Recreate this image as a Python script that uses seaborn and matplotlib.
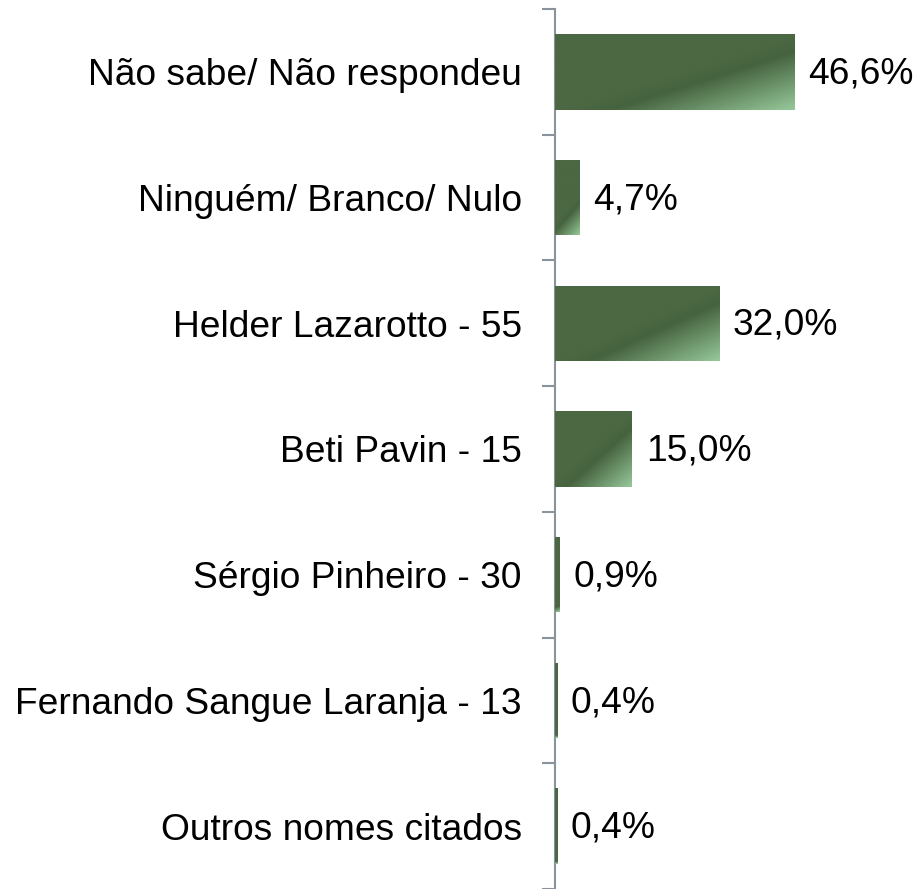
import numpy as np
import pandas as pd
import matplotlib
matplotlib.use("Agg")
import matplotlib.pyplot as plt
import seaborn as sns
from matplotlib.colors import LinearSegmentedColormap

# Data
categories = ["Não sabe/ Não respondeu", "Ninguém/ Branco/ Nulo", "Helder Lazarotto - 55",
              "Beti Pavin - 15", "Sérgio Pinheiro - 30", "Fernando Sangue Laranja - 13",
              "Outros nomes citados"]
values = [46.6, 4.7, 32.0, 15.0, 0.9, 0.4, 0.4]
value_labels = ["46,6%", "4,7%", "32,0%", "15,0%", "0,9%", "0,4%", "0,4%"]

df = pd.DataFrame({"cat": categories, "val": values})

sns.set_theme(style="white")
plt.rcParams["font.family"] = ["Liberation Sans", "DejaVu Sans"]

W, H, DPI = 919, 889, 100
fig = plt.figure(figsize=(W / DPI, H / DPI), dpi=DPI)
ax = fig.add_axes([555 / W, 0.0, (W - 555) / W, 880 / H])

dark = "#4b6843"
light = "#96c89a"
sns.barplot(data=df, y="cat", x="val", orient="h", color=dark, width=0.6,
            saturation=1, ax=ax)

xmax = (W - 555) / 5.13
ax.set_xlim(0, xmax)
ax.set_ylim(len(categories) - 0.5, -0.5)

# gradient fill on each bar (light corner bottom-right)
cmap = LinearSegmentedColormap.from_list(
    "g", [(0, light), (0.8, "#46633f"), (1, dark)])
px_x = 5.13
px_y = 880 / len(categories)
for p in list(ax.patches):
    x0, y0 = p.get_x(), p.get_y()
    w, h = p.get_width(), p.get_height()
    w_px = max(w * px_x, 1)
    a = 0.72 * w_px + 10
    b = min(1.3 * w_px, 58)
    xs = np.linspace(x0, x0 + w, 240)
    ys = np.linspace(y0, y0 + h, 80)
    X, Y = np.meshgrid(xs, ys)
    dx = (x0 + w - X) * px_x
    dy = (y0 + h - Y) * px_y
    d = np.clip(dx / a + dy / b, 0, 1.25) / 1.25
    im = ax.imshow(d, extent=(x0, x0 + w, y0 + h, y0), cmap=cmap, vmin=0, vmax=1,
                   aspect="auto", origin="upper", zorder=3, interpolation="bilinear")
    im.set_clip_path(p)
ax.set_xlim(0, xmax)
ax.set_ylim(len(categories) - 0.5, -0.5)

for i, (v, lab) in enumerate(zip(values, value_labels)):
    ax.annotate(lab, (v, i), xytext=(10, -1.5), textcoords="offset points",
                ha="left", va="center", fontsize=26.7, color="black")

ax.set_xlabel("")
ax.set_ylabel("")
ax.set_xticks([])
ax.set_yticks(np.arange(len(categories)))
ax.set_yticklabels(categories, fontsize=26.7, color="black")
ax.set_yticks(np.arange(len(categories) + 1) - 0.5, minor=True)
ax.tick_params(axis="y", which="major", length=0, pad=24)
ax.tick_params(axis="y", which="minor", length=9.5, width=1.5, color="#8a929c",
               direction="out", left=True)

for s in ["top", "right", "bottom"]:
    ax.spines[s].set_visible(False)
ax.spines["left"].set_color("#8a929c")
ax.spines["left"].set_linewidth(1.5)

fig.savefig("out.png", dpi=DPI)
